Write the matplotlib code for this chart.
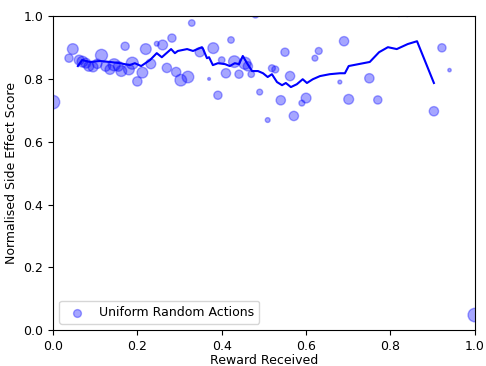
import matplotlib
matplotlib.use('Agg')
import matplotlib.pyplot as plt

plt.rcParams['font.size'] = 9

# uniform random action runs: reward, side effect score, marker size
reward = [0.000, 0.038, 0.047, 0.062, 0.070, 0.078, 0.085, 0.095, 0.105, 0.115,
          0.125, 0.135, 0.145, 0.155, 0.162, 0.171, 0.180, 0.188, 0.200, 0.212,
          0.220, 0.232, 0.246, 0.260, 0.270, 0.282, 0.292, 0.303, 0.320, 0.329,
          0.348, 0.370, 0.380, 0.391, 0.400, 0.410, 0.422, 0.430, 0.441, 0.455,
          0.462, 0.470, 0.480, 0.490, 0.509, 0.519, 0.527, 0.540, 0.550, 0.562,
          0.571, 0.590, 0.600, 0.621, 0.630, 0.680, 0.690, 0.701, 0.750, 0.770,
          0.820, 0.840, 0.903, 0.922, 0.940, 1.000]
side_effect = [0.726, 0.866, 0.895, 0.860, 0.855, 0.850, 0.840, 0.838, 0.848, 0.875,
               0.840, 0.830, 0.845, 0.840, 0.825, 0.904, 0.830, 0.850, 0.792, 0.820,
               0.895, 0.848, 0.912, 0.908, 0.835, 0.930, 0.822, 0.796, 0.806, 0.978,
               0.885, 0.800, 0.898, 0.748, 0.860, 0.818, 0.924, 0.855, 0.815, 0.850,
               0.840, 0.815, 1.005, 0.758, 0.669, 0.834, 0.830, 0.732, 0.885, 0.809,
               0.682, 0.723, 0.739, 0.866, 0.889, 0.790, 0.920, 0.735, 0.802, 0.733,
               1.005, 1.005, 0.697, 0.899, 0.828, 0.048]
sizes = [95, 35, 60, 50, 60, 50, 50, 50, 45, 75,
         50, 50, 75, 50, 60, 35, 60, 75, 45, 60,
         60, 50, 12, 50, 45, 35, 45, 70, 70, 22,
         45, 4, 60, 35, 22, 45, 22, 70, 35, 75,
         45, 22, 25, 18, 12, 25, 25, 45, 35, 45,
         45, 18, 50, 18, 25, 8, 45, 50, 45, 35,
         8, 8, 45, 35, 6, 95]

# running average curve
avg_x = [0.059, 0.069, 0.088, 0.111, 0.135, 0.159, 0.182, 0.194, 0.209, 0.230,
         0.246, 0.258, 0.280, 0.289, 0.296, 0.318, 0.332, 0.353, 0.355, 0.365,
         0.370, 0.379, 0.391, 0.408, 0.419, 0.431, 0.441, 0.450, 0.460, 0.472,
         0.486, 0.498, 0.509, 0.519, 0.531, 0.543, 0.552, 0.564, 0.578, 0.592,
         0.602, 0.616, 0.633, 0.656, 0.680, 0.692, 0.701, 0.751, 0.773, 0.794,
         0.815, 0.841, 0.863, 0.903]
avg_y = [0.841, 0.860, 0.854, 0.857, 0.854, 0.850, 0.844, 0.850, 0.841, 0.860,
         0.882, 0.869, 0.895, 0.882, 0.889, 0.895, 0.889, 0.901, 0.898, 0.866,
         0.869, 0.844, 0.850, 0.847, 0.841, 0.850, 0.847, 0.873, 0.850, 0.825,
         0.825, 0.818, 0.806, 0.815, 0.790, 0.780, 0.787, 0.774, 0.783, 0.799,
         0.787, 0.799, 0.809, 0.815, 0.818, 0.818, 0.841, 0.854, 0.885, 0.901,
         0.895, 0.911, 0.920, 0.787]

fig = plt.figure(figsize=(4.86, 3.66), dpi=100)
ax = fig.add_axes([0.109, 0.098, 0.868, 0.858])

ax.scatter(reward, side_effect, s=sizes, c='blue', alpha=0.35,
           label='Uniform Random Actions')
ax.plot(avg_x, avg_y, color='blue', linewidth=1.5)

ax.set_xlim(0, 1)
ax.set_ylim(0, 1)
ax.set_xlabel('Reward Received', labelpad=1)
ax.set_ylabel('Normalised Side Effect Score')
ax.legend(loc='lower left', markerscale=0.8)

fig.savefig('out.png', dpi=100)
